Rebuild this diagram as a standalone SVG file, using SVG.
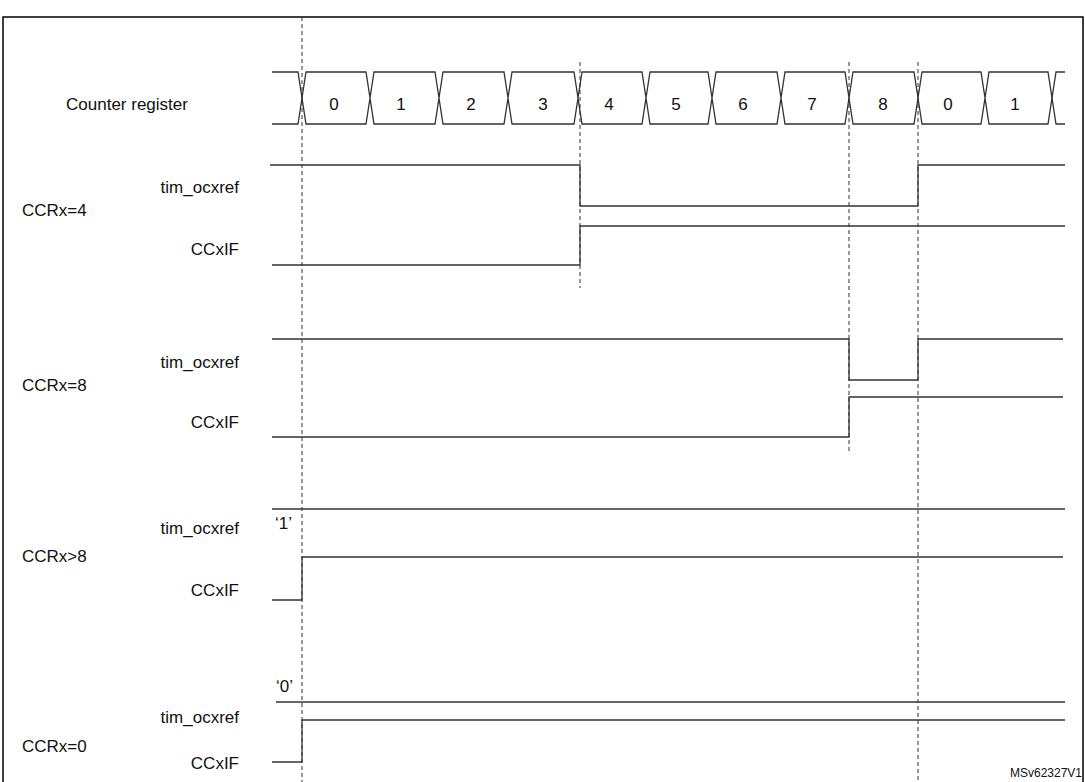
<svg xmlns="http://www.w3.org/2000/svg" width="1085" height="782" viewBox="0 0 1085 782">
<style>
text{font-family:"Liberation Sans",Arial,sans-serif;font-size:17px;fill:#111}
.r{text-anchor:end}.c{text-anchor:middle}
.w{fill:none;stroke:#333;stroke-width:1.3}
.d{fill:none;stroke:#333;stroke-width:1;stroke-dasharray:4,3}
</style>
<rect x="3" y="17" width="1080" height="770" fill="#fff" stroke="#000" stroke-width="1.5"/>
<g id="guides">
<path class="d" d="M302,17V782M580,62V288M849,62V452M918,62V782"/>
</g>
<g id="counter">
<text x="127" y="110" class="c">Counter register</text>
<path class="w" d="M272,72H298L302,98L298,124H272"/>
<path class="w" d="M302,98L306,72H366L370,98L366,124H306Z M370,98L374,72H435L439,98L435,124H374Z M439,98L443,72H504L508,98L504,124H443Z M508,98L512,72H574L578,98L574,124H512Z M578,98L582,72H642L646,98L642,124H582Z M646,98L650,72H708L712,98L708,124H650Z M712,98L716,72H777L781,98L777,124H716Z M781,98L785,72H845L849,98L845,124H785Z M849,98L853,72H914L918,98L914,124H853Z M918,98L922,72H981L985,98L981,124H922Z M985,98L989,72H1048L1052,98L1048,124H989Z"/>
<path class="w" d="M1065,72H1056L1052,98L1056,124H1065"/>
<text x="334" y="110" class="c">0</text><text x="401" y="110" class="c">1</text><text x="471" y="110" class="c">2</text><text x="543" y="110" class="c">3</text><text x="609" y="110" class="c">4</text><text x="676" y="110" class="c">5</text><text x="743" y="110" class="c">6</text><text x="812" y="110" class="c">7</text><text x="883" y="110" class="c">8</text><text x="948" y="110" class="c">0</text><text x="1015" y="110" class="c">1</text>
</g>
<g id="ccr4">
<text x="22" y="216">CCRx=4</text>
<text x="239" y="193" class="r">tim_ocxref</text>
<text x="239" y="255" class="r">CCxIF</text>
<path class="w" d="M270,165H580V206H918V165H1065"/>
<path class="w" d="M272,265H580V226H1065"/>
</g>
<g id="ccr8">
<text x="22" y="391">CCRx=8</text>
<text x="239" y="368" class="r">tim_ocxref</text>
<text x="239" y="428" class="r">CCxIF</text>
<path class="w" d="M272,339H849V380H918V339H1063"/>
<path class="w" d="M272,437H849V397H1063"/>
</g>
<g id="ccrgt8">
<text x="22" y="562">CCRx&gt;8</text>
<text x="239" y="534" class="r">tim_ocxref</text>
<text x="239" y="596" class="r">CCxIF</text>
<text x="275" y="529">‘1’</text>
<path class="w" d="M272,509H1065"/>
<path class="w" d="M272,600H302V557H1063"/>
</g>
<g id="ccr0">
<text x="22" y="752">CCRx=0</text>
<text x="239" y="723" class="r">tim_ocxref</text>
<text x="239" y="769" class="r">CCxIF</text>
<text x="276" y="692">‘0’</text>
<path class="w" d="M276,702H1065"/>
<path class="w" d="M272,762H302V720H1065"/>
</g>
<text x="1082" y="777" class="r" style="font-size:12px">MSv62327V1</text>
</svg>
